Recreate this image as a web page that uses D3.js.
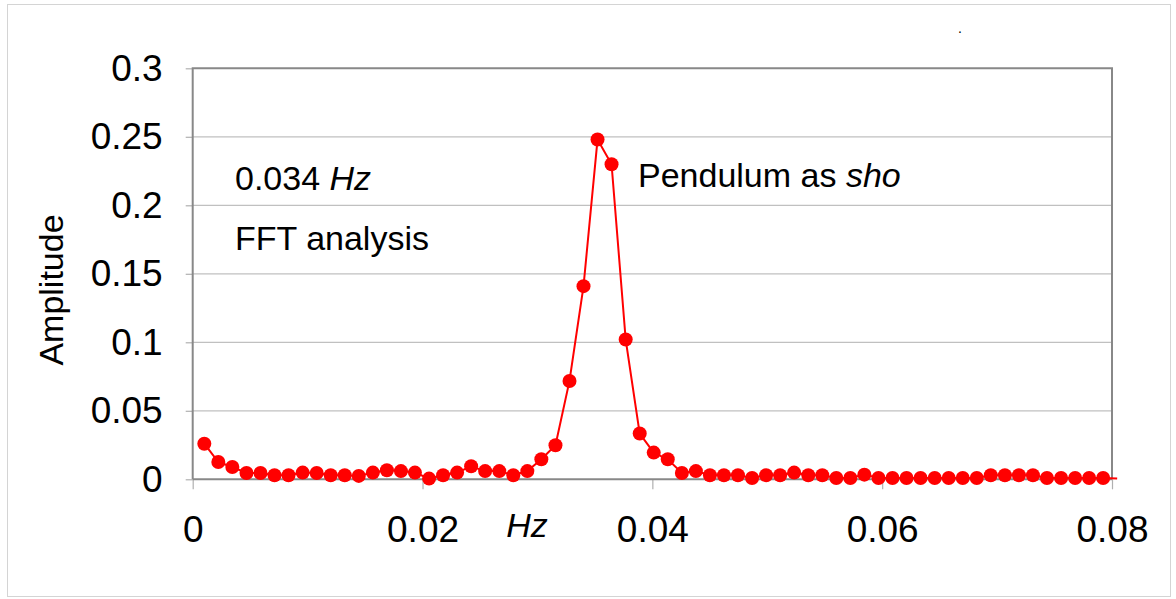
<!DOCTYPE html>
<html><head><meta charset="utf-8">
<script src="https://cdnjs.cloudflare.com/ajax/libs/d3/7.8.5/d3.min.js"></script>
<style>
html,body{margin:0;padding:0;background:#fff;}
svg text{font-family:"Liberation Sans",Arial,sans-serif;fill:#000;}
</style></head>
<body>
<svg id="chart" width="1176" height="599"></svg>
<script>
// Frequencies (Hz)
const freq = [0.00101,0.00223,0.00345,0.00468,0.00590,0.00712,0.00834,0.00957,0.01079,0.01201,
0.01323,0.01445,0.01568,0.01690,0.01812,0.01934,0.02057,0.02179,0.02301,0.02423,
0.02545,0.02668,0.02790,0.02912,0.03034,0.03157,0.03279,0.03401,0.03523,0.03645,
0.03768,0.03890,0.04012,0.04134,0.04257,0.04379,0.04501,0.04623,0.04745,0.04868,
0.04990,0.05112,0.05234,0.05357,0.05479,0.05601,0.05723,0.05845,0.05968,0.06090,
0.06212,0.06334,0.06457,0.06579,0.06701,0.06823,0.06945,0.07068,0.07190,0.07312,
0.07434,0.07557,0.07679,0.07801,0.07923,0.08045];
// FFT amplitude
const amplitude = [0.026,0.0126,0.009,0.0046,0.0046,0.003,0.003,0.0049,0.0046,0.003,
0.003,0.0025,0.0049,0.0066,0.006,0.0049,0.0005,0.003,0.0049,0.0095,
0.006,0.006,0.003,0.006,0.0146,0.0248,0.0718,0.141,0.248,0.230,
0.102,0.0334,0.0195,0.0146,0.0046,0.006,0.003,0.003,0.003,0.001,
0.003,0.003,0.0049,0.003,0.003,0.001,0.001,0.0034,0.001,0.001,
0.001,0.001,0.001,0.001,0.001,0.001,0.003,0.003,0.003,0.003,
0.001,0.001,0.001,0.001,0.001,0.0005];
const xTicks = [0,0.02,0.04,0.06,0.08];
const xTickLabels = ["0","0.02","0.04","0.06","0.08"];
const yTicks = [0,0.05,0.1,0.15,0.2,0.25,0.3];
const yTickLabels = ["0","0.05","0.1","0.15","0.2","0.25","0.3"];

const svg = d3.select("#chart");
const L=192.7, R=1112, T=68.3, B=479.3;
const x = d3.scaleLinear().domain([0,0.08]).range([L,R]);
const y = d3.scaleLinear().domain([0,0.3]).range([B,T]);

// outer frame
svg.append("rect").attr("x",7.5).attr("y",4.5).attr("width",1163).attr("height",592)
  .attr("fill","none").attr("stroke","#d4d4d4").attr("stroke-width",1);

// gridlines
svg.append("g").selectAll("line").data(yTicks.slice(1,-1)).join("line")
  .attr("x1",L).attr("x2",R).attr("y1",d=>y(d)).attr("y2",d=>y(d))
  .attr("stroke","#c0c0c0").attr("stroke-width",1.2);

// y axis
const yAxis = d3.axisLeft(y).tickValues(yTicks).tickSize(7).tickPadding(23)
  .tickFormat((d,i)=>yTickLabels[i]);
const gy = svg.append("g").attr("transform",`translate(${L},0)`).call(yAxis);
gy.select(".domain").remove();
gy.selectAll(".tick line").attr("stroke","#b0b0b0").attr("stroke-width",1.2);
gy.selectAll(".tick text").attr("font-size",37).attr("font-family","Liberation Sans, Arial, sans-serif").attr("fill","#000");

// x axis
const xAxis = d3.axisBottom(x).tickValues(xTicks).tickSize(10).tickPadding(26)
  .tickFormat((d,i)=>xTickLabels[i]);
const gx = svg.append("g").attr("transform",`translate(0,${B})`).call(xAxis);
gx.select(".domain").remove();
gx.selectAll(".tick line").attr("stroke","#b0b0b0").attr("stroke-width",1.2);
gx.selectAll(".tick text").attr("font-size",37).attr("font-family","Liberation Sans, Arial, sans-serif").attr("fill","#000");

// plot border
svg.append("path").attr("d",`M${L},${B}V${T}H${R}V${B}`)
  .attr("fill","none").attr("stroke","#888").attr("stroke-width",2);
svg.append("line").attr("x1",L).attr("x2",R).attr("y1",B).attr("y2",B)
  .attr("stroke","#888").attr("stroke-width",2);

// series
const pts = freq.map((f,i)=>({f, a: amplitude[i]}));
const line = d3.line().x(d=>x(d.f)).y(d=>y(d.a));
svg.append("path").datum(pts).attr("d",line)
  .attr("fill","none").attr("stroke","#ff0000").attr("stroke-width",2);
svg.append("g").selectAll("circle").data(pts.filter(d=>d.f<=0.08)).join("circle")
  .attr("cx",d=>x(d.f)).attr("cy",d=>y(d.a)).attr("r",7).attr("fill","#ff0000");

// labels
svg.append("text").attr("x",527).attr("y",525).attr("text-anchor","middle")
  .attr("dominant-baseline","central").attr("font-size",34).attr("font-style","italic").text("Hz");
svg.append("text").attr("transform","translate(51,290) rotate(-90)").attr("text-anchor","middle")
  .attr("dominant-baseline","central").attr("font-size",34).text("Amplitude");

const t1 = svg.append("text").attr("x",235).attr("y",178).attr("dominant-baseline","central").attr("font-size",34);
t1.append("tspan").text("0.034 ");
t1.append("tspan").attr("font-style","italic").text("Hz");
svg.append("text").attr("x",235).attr("y",238).attr("dominant-baseline","central").attr("font-size",34).text("FFT analysis");
const t2 = svg.append("text").attr("x",638).attr("y",175).attr("dominant-baseline","central").attr("font-size",34);
t2.append("tspan").text("Pendulum as ");
t2.append("tspan").attr("font-style","italic").text("sho");
svg.append("text").attr("x",960).attr("y",33).attr("text-anchor","middle").attr("font-size",14).text(".");
</script>
</body></html>
